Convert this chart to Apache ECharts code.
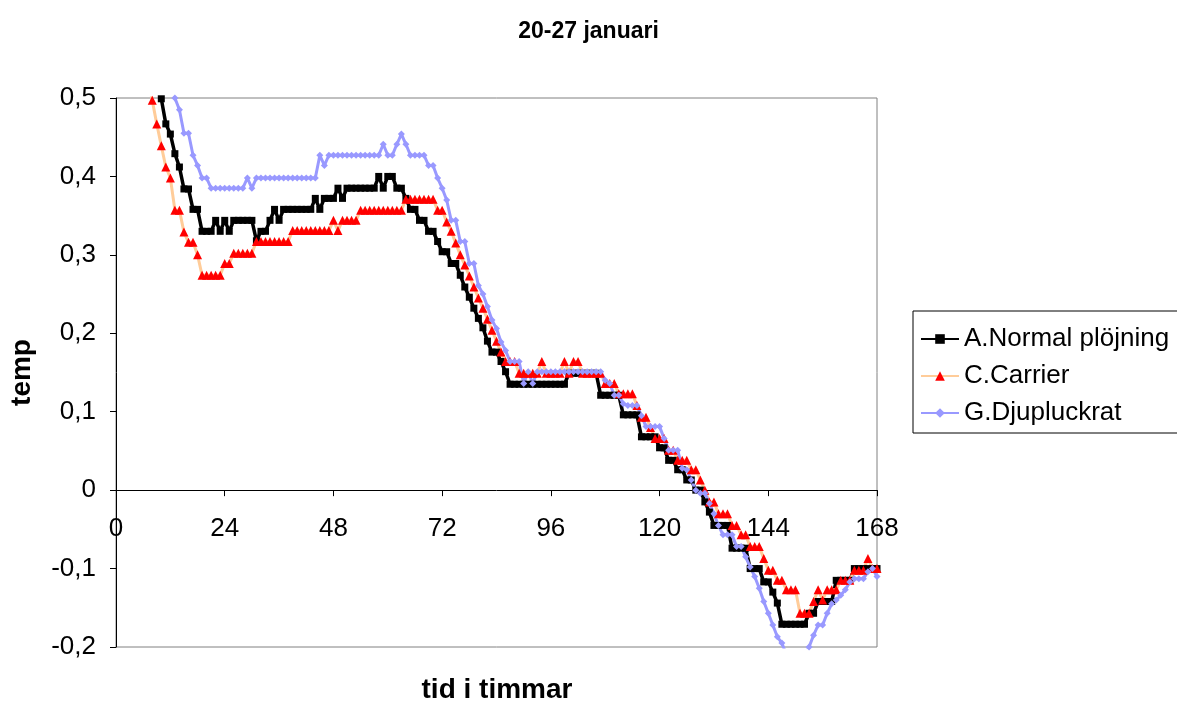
<!DOCTYPE html>
<html>
<head>
<meta charset="utf-8">
<script src="https://cdn.jsdelivr.net/npm/echarts@6/dist/echarts.min.js"></script>
<style>
  html, body { margin: 0; padding: 0; background: #fff; }
  #chart { width: 1177px; height: 701px; }
</style>
</head>
<body>
<div id="chart"></div>
<script>
// Hourly temperatures, hour 0 .. 168 (one value per hour)
const seriesNames = ['A.Normal plöjning', 'C.Carrier', 'G.Djupluckrat'];

const normalPlojning = [
  0.74, 0.72, 0.70, 0.68, 0.66, 0.63, 0.60, 0.58, 0.555, 0.53,
  0.499, 0.467, 0.454, 0.429, 0.412, 0.384, 0.384, 0.358, 0.358, 0.330,
  0.330, 0.330, 0.344, 0.330, 0.344, 0.330, 0.344, 0.344, 0.344, 0.344,
  0.344, 0.318, 0.330, 0.330, 0.344, 0.358, 0.344, 0.358, 0.358, 0.358,
  0.358, 0.358, 0.358, 0.358, 0.372, 0.358, 0.372, 0.372, 0.372, 0.385,
  0.372, 0.385, 0.385, 0.385, 0.385, 0.385, 0.385, 0.385, 0.400, 0.385,
  0.400, 0.400, 0.385, 0.385, 0.372, 0.358, 0.358, 0.344, 0.344, 0.330,
  0.330, 0.317, 0.304, 0.304, 0.289, 0.289, 0.274, 0.259, 0.246, 0.232,
  0.219, 0.207, 0.190, 0.176, 0.176, 0.164, 0.151, 0.135, 0.135, 0.135,
  0.135, 0.135, 0.135, 0.135, 0.135, 0.135, 0.135, 0.135, 0.135, 0.135,
  0.149, 0.149, 0.149, 0.149, 0.149, 0.149, 0.149, 0.121, 0.121, 0.121,
  0.121, 0.121, 0.096, 0.096, 0.096, 0.096, 0.068, 0.068, 0.068, 0.068,
  0.054, 0.054, 0.038, 0.038, 0.026, 0.026, 0.013, 0.013, 0.000, 0.000,
  -0.015, -0.028, -0.045, -0.045, -0.045, -0.045, -0.074, -0.074, -0.074, -0.074,
  -0.100, -0.100, -0.100, -0.117, -0.117, -0.130, -0.144, -0.171, -0.171, -0.171,
  -0.171, -0.171, -0.171, -0.157, -0.157, -0.142, -0.142, -0.142, -0.142, -0.115,
  -0.115, -0.115, -0.115, -0.100, -0.100, -0.100, -0.100, -0.100, -0.100
];

const carrier = [
  0.70, 0.68, 0.655, 0.63, 0.605, 0.58, 0.555, 0.525, 0.497, 0.467,
  0.439, 0.412, 0.398, 0.357, 0.357, 0.329, 0.316, 0.316, 0.300, 0.274,
  0.274, 0.274, 0.274, 0.274, 0.289, 0.289, 0.302, 0.302, 0.302, 0.302,
  0.302, 0.317, 0.317, 0.317, 0.317, 0.317, 0.317, 0.317, 0.317, 0.331,
  0.331, 0.331, 0.331, 0.331, 0.331, 0.331, 0.331, 0.331, 0.344, 0.331,
  0.344, 0.344, 0.344, 0.344, 0.357, 0.357, 0.357, 0.357, 0.357, 0.357,
  0.357, 0.357, 0.357, 0.357, 0.371, 0.371, 0.371, 0.371, 0.371, 0.371,
  0.371, 0.357, 0.357, 0.342, 0.330, 0.315, 0.300, 0.287, 0.273, 0.259,
  0.245, 0.232, 0.218, 0.204, 0.190, 0.176, 0.164, 0.164, 0.164, 0.149,
  0.149, 0.149, 0.149, 0.149, 0.164, 0.149, 0.149, 0.149, 0.149, 0.164,
  0.149, 0.164, 0.164, 0.149, 0.149, 0.149, 0.149, 0.149, 0.136, 0.136,
  0.136, 0.123, 0.123, 0.123, 0.123, 0.108, 0.093, 0.093, 0.080, 0.066,
  0.066, 0.066, 0.051, 0.051, 0.038, 0.038, 0.038, 0.026, 0.026, 0.013,
  0.000, -0.015, -0.015, -0.030, -0.030, -0.030, -0.045, -0.045, -0.057, -0.057,
  -0.072, -0.072, -0.072, -0.087, -0.102, -0.102, -0.115, -0.115, -0.127, -0.127,
  -0.127, -0.157, -0.157, -0.157, -0.142, -0.127, -0.140, -0.127, -0.127, -0.127,
  -0.115, -0.115, -0.115, -0.102, -0.102, -0.102, -0.087, -0.100, -0.100
];

const djupluckrat = [
  0.80, 0.78, 0.76, 0.74, 0.72, 0.70, 0.68, 0.66, 0.63, 0.60,
  0.575, 0.55, 0.525, 0.500, 0.485, 0.455, 0.455, 0.427, 0.414, 0.398,
  0.398, 0.385, 0.385, 0.385, 0.385, 0.385, 0.385, 0.385, 0.385, 0.398,
  0.385, 0.398, 0.398, 0.398, 0.398, 0.398, 0.398, 0.398, 0.398, 0.398,
  0.398, 0.398, 0.398, 0.398, 0.398, 0.427, 0.414, 0.427, 0.427, 0.427,
  0.427, 0.427, 0.427, 0.427, 0.427, 0.427, 0.427, 0.427, 0.427, 0.441,
  0.427, 0.427, 0.441, 0.454, 0.441, 0.427, 0.427, 0.427, 0.427, 0.414,
  0.414, 0.398, 0.385, 0.370, 0.344, 0.344, 0.317, 0.317, 0.289, 0.289,
  0.261, 0.250, 0.234, 0.217, 0.206, 0.189, 0.178, 0.164, 0.164, 0.164,
  0.136, 0.151, 0.136, 0.151, 0.151, 0.151, 0.151, 0.151, 0.151, 0.151,
  0.151, 0.151, 0.151, 0.151, 0.151, 0.151, 0.151, 0.151, 0.140, 0.136,
  0.121, 0.121, 0.110, 0.108, 0.108, 0.108, 0.095, 0.081, 0.081, 0.081,
  0.081, 0.066, 0.051, 0.051, 0.051, 0.028, 0.026, 0.013, 0.000, -0.004,
  -0.004, -0.017, -0.030, -0.045, -0.057, -0.057, -0.057, -0.072, -0.072, -0.085,
  -0.098, -0.110, -0.125, -0.142, -0.157, -0.172, -0.187, -0.195, -0.210, -0.220,
  -0.220, -0.220, -0.210, -0.200, -0.185, -0.172, -0.172, -0.157, -0.145, -0.140,
  -0.134, -0.127, -0.117, -0.113, -0.113, -0.113, -0.104, -0.100, -0.110
];

// Axis ranges
const xTicks = [0, 24, 48, 72, 96, 120, 144, 168];
const yTicks = [-0.2, -0.1, 0, 0.1, 0.2, 0.3, 0.4, 0.5];

const FONT = 'Liberation Sans, Arial, sans-serif';

// Plot box in pixels
const PLOT = { left: 113, top: 98, right: 877, bottom: 647 };
const W = 1177, H = 701;
// Distance from the bottom edge of the plot box up to the value 0
const zeroLift = (PLOT.bottom - PLOT.top) * (0 - yTicks[0]) / (yTicks[yTicks.length - 1] - yTicks[0]);

function toPairs(values) {
  return values.map((v, hour) => [hour, v]);
}

const chart = echarts.init(document.getElementById('chart'), null, { renderer: 'canvas' });

chart.setOption({
  animation: false,
  backgroundColor: '#ffffff',
  textStyle: { fontFamily: FONT, color: '#000' },
  title: {
    text: '20-27 januari',
    left: 'center',
    top: 15,
    textStyle: { fontFamily: FONT, fontSize: 23, fontWeight: 'bold', color: '#000' }
  },
  graphic: [{
    type: 'text',
    x: (PLOT.left + PLOT.right) / 2 + 2,
    y: 690,
    style: {
      text: 'tid i timmar',
      font: 'bold 28px ' + FONT,
      fill: '#000',
      align: 'center',
      verticalAlign: 'middle'
    }
  }],
  legend: {
    orient: 'vertical',
    left: 913,
    top: 311,
    padding: [15, 14, 7, 7],
    itemGap: 11,
    itemWidth: 38,
    itemHeight: 12,
    borderColor: '#000',
    borderWidth: 1,
    backgroundColor: '#fff',
    textStyle: { fontFamily: FONT, fontSize: 26, color: '#000' },
    data: seriesNames
  },
  grid: {
    left: PLOT.left,
    top: PLOT.top,
    right: W - PLOT.right,
    bottom: H - PLOT.bottom,
    show: true,
    borderColor: '#808080',
    borderWidth: 1,
    backgroundColor: '#fff'
  },
  xAxis: {
    type: 'value',
    min: xTicks[0],
    max: xTicks[xTicks.length - 1],
    interval: 24,
    position: 'bottom',
    offset: -zeroLift,
    axisLine: { onZero: false, lineStyle: { color: '#000', width: 1 } },
    axisTick: { show: true, inside: false, length: 6, lineStyle: { color: '#000' } },
    axisLabel: {
      margin: 26,
      fontFamily: FONT,
      fontSize: 26,
      color: '#000',
      showMinLabel: true,
      showMaxLabel: true
    },
    splitLine: { show: false }
  },
  yAxis: {
    type: 'value',
    min: yTicks[0],
    max: yTicks[yTicks.length - 1],
    interval: 0.1,
    name: 'temp',
    nameLocation: 'middle',
    nameRotate: 90,
    nameGap: 80,
    nameTextStyle: { fontFamily: FONT, fontSize: 28, fontWeight: 'bold', color: '#000' },
    axisLine: { show: true, lineStyle: { color: '#000', width: 1 } },
    axisTick: { show: true, inside: false, length: 6, lineStyle: { color: '#000' } },
    axisLabel: {
      margin: 20,
      fontFamily: FONT,
      fontSize: 26,
      color: '#000',
      formatter: v => (Math.abs(v) < 1e-9 ? '0' : v.toFixed(1).replace('.', ','))
    },
    splitLine: { show: false }
  },
  series: [
    {
      name: seriesNames[0],
      type: 'line',
      clip: true,
      data: toPairs(normalPlojning),
      symbol: 'rect',
      symbolSize: 7,
      itemStyle: { color: '#000000' },
      lineStyle: { color: '#000000', width: 3.5 }
    },
    {
      name: seriesNames[1],
      type: 'line',
      clip: true,
      data: toPairs(carrier),
      symbol: 'triangle',
      symbolSize: 9,
      itemStyle: { color: '#FF0000' },
      lineStyle: { color: '#FFCC99', width: 3 }
    },
    {
      name: seriesNames[2],
      type: 'line',
      clip: true,
      data: toPairs(djupluckrat),
      symbol: 'diamond',
      symbolSize: 7,
      itemStyle: { color: '#9999FF' },
      lineStyle: { color: '#9999FF', width: 3 }
    }
  ]
});
</script>
</body>
</html>
